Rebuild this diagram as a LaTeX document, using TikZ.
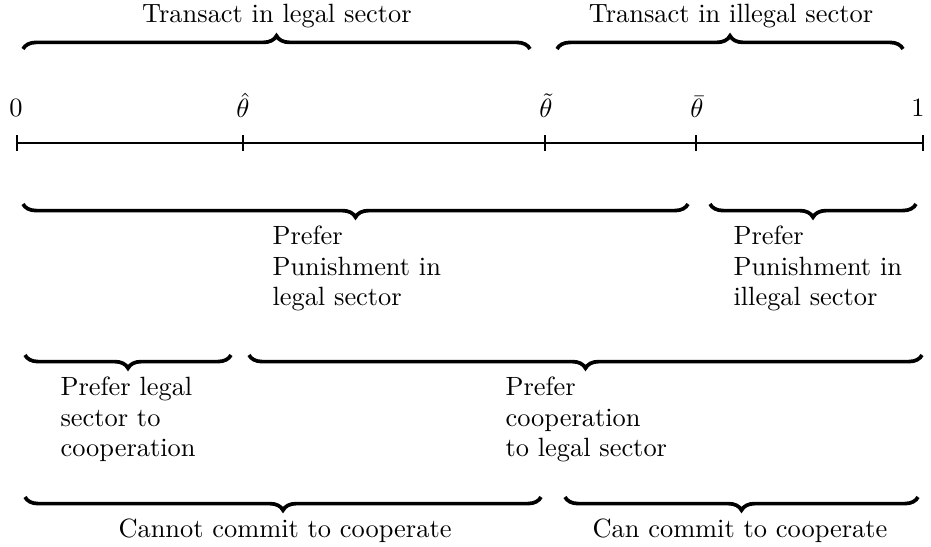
\documentclass[tikz,border=0pt]{standalone}
\usetikzlibrary{decorations.pathreplacing}
\begin{document}
\begin{tikzpicture}[x=0.3788pt,y=-0.3788pt,
  axisline/.style={line width=0.8pt},
  tickmark/.style={line width=0.8pt},
  bigbrace/.style={decorate,decoration={brace,amplitude=5pt},line width=1.4pt},
  bigbraceb/.style={decorate,decoration={brace,amplitude=5pt,mirror},line width=1.4pt},
  lbl/.style={inner sep=0pt,anchor=base},
  blk/.style={inner sep=0pt,anchor=north west,align=left,font=\fontsize{10}{11.5}\selectfont}]
\useasboundingbox (0,0) rectangle (931,546);
% axis
\coordinate (p0) at (17,143);
\coordinate (p1) at (243,143);
\coordinate (p2) at (545,143);
\coordinate (p3) at (696,143);
\coordinate (p4) at (923,143);
\draw[axisline] (p0) -- (p4);
\foreach \p in {p0,p1,p2,p3,p4}{
  \draw[tickmark] ([yshift=3pt]\p) -- ([yshift=-3pt]\p);
}
\node[lbl] (l0) at (16,117) {$0$};
\node[lbl] (l1) at (243,118) {$\hat{\theta}$};
\node[lbl] (l2) at (546,118) {$\tilde{\theta}$};
\node[lbl] (l3) at (697,118) {$\bar{\theta}$};
\node[lbl] (l4) at (918,117) {$1$};
% top braces
\coordinate (t1l) at (23,49);  \coordinate (t1r) at (530,49);
\coordinate (t2l) at (557,49); \coordinate (t2r) at (903,49);
\draw[bigbrace] (t1l) -- (t1r);
\draw[bigbrace] (t2l) -- (t2r);
\node[lbl] (tx1) at (277,23) {Transact in legal sector};
\node[lbl] (tx2) at (731,23) {Transact in illegal sector};
% row 2
\coordinate (r2al) at (23,204);  \coordinate (r2ar) at (688,204);
\coordinate (r2bl) at (710,204); \coordinate (r2br) at (916,204);
\draw[bigbraceb] (r2al) -- (r2ar);
\draw[bigbraceb] (r2bl) -- (r2br);
\node[blk] (r2at) at (272,225.7) {Prefer\\Punishment in\\legal sector};
\node[blk] (r2bt) at (733,225.7) {Prefer\\Punishment in\\illegal sector};
% row 3
\coordinate (r3al) at (25,355);  \coordinate (r3ar) at (231,355);
\coordinate (r3bl) at (249,355); \coordinate (r3br) at (922,355);
\draw[bigbraceb] (r3al) -- (r3ar);
\draw[bigbraceb] (r3bl) -- (r3br);
\node[blk] (r3at) at (60,376.7) {Prefer legal\\sector to\\cooperation};
\node[blk] (r3bt) at (505,376.7) {Prefer\\cooperation\\to legal sector};
% row 4
\coordinate (r4al) at (25,497);  \coordinate (r4ar) at (541,497);
\coordinate (r4bl) at (565,497); \coordinate (r4br) at (918,497);
\draw[bigbraceb] (r4al) -- (r4ar);
\draw[bigbraceb] (r4bl) -- (r4br);
\node[lbl] (r4at) at (285,537) {Cannot commit to cooperate};
\node[lbl] (r4bt) at (740,537) {Can commit to cooperate};
\end{tikzpicture}
\end{document}
